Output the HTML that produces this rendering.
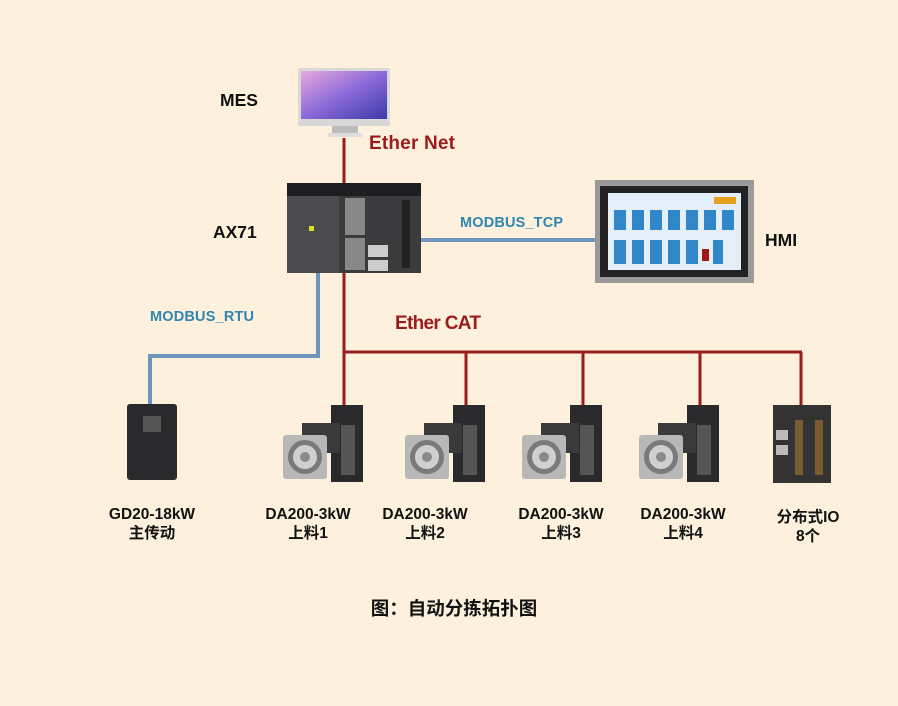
<!DOCTYPE html>
<html><head><meta charset="utf-8"><style>
body{margin:0;background:#fdf0dc;}
svg{display:block}
text{font-family:"Liberation Sans","Noto Sans CJK SC",sans-serif;font-weight:bold}
</style></head><body>
<svg width="898" height="706" viewBox="0 0 898 706" xmlns="http://www.w3.org/2000/svg">
<rect width="898" height="706" fill="#fdf0dc"/>
<defs>
<linearGradient id="scr" x1="0" y1="0" x2="1" y2="1"><stop offset="0" stop-color="#e8a8e0"/><stop offset="0.5" stop-color="#8a6ad8"/><stop offset="1" stop-color="#3a3aa8"/></linearGradient>
<g id="servo">
 <rect x="-13" y="0" width="32" height="77" fill="#2a2a2c"/>
 <rect x="-3" y="20" width="14" height="50" fill="#555"/>
 <rect x="-42" y="18" width="38" height="30" fill="#3a3a3a"/>
 <rect x="-61" y="30" width="44" height="44" rx="3" fill="#b8b8b8"/>
 <circle cx="-39" cy="52" r="17" fill="#7a7a7a"/>
 <circle cx="-39" cy="52" r="12" fill="#d0d0d0"/>
 <circle cx="-39" cy="52" r="5" fill="#8a8a8a"/>
</g>
</defs>
<g stroke="#9a1c1c" stroke-width="3" fill="none">
 <line x1="344" y1="138" x2="344" y2="406"/>
 <line x1="343" y1="352" x2="802" y2="352"/>
 <line x1="466" y1="352" x2="466" y2="406"/>
 <line x1="583" y1="352" x2="583" y2="406"/>
 <line x1="700" y1="352" x2="700" y2="406"/>
 <line x1="801" y1="352" x2="801" y2="406"/>
</g>
<g stroke="#6e96bd" stroke-width="4" fill="none">
 <polyline points="318,272 318,356 150,356 150,405"/>
 <line x1="421" y1="240" x2="596" y2="240"/>
</g>
<rect x="298" y="68" width="92" height="58" rx="2" fill="#d8d8d8"/>
<rect x="301" y="71" width="86" height="48" fill="url(#scr)"/>
<rect x="332" y="126" width="26" height="7" fill="#bbb"/>
<rect x="328" y="133" width="34" height="4" fill="#ddd"/>
<rect x="287" y="183" width="134" height="90" fill="#3b3b3d"/>
<rect x="287" y="183" width="52" height="90" fill="#4b4b4d"/>
<rect x="287" y="183" width="134" height="13" fill="#1e1e20"/>
<rect x="345" y="198" width="20" height="37" fill="#888"/>
<rect x="345" y="238" width="20" height="32" fill="#888"/>
<rect x="368" y="245" width="20" height="12" fill="#ccc"/>
<rect x="368" y="260" width="20" height="11" fill="#ccc"/>
<rect x="402" y="200" width="8" height="68" fill="#222"/>
<rect x="309" y="226" width="5" height="5" fill="#dd2"/>
<rect x="595" y="180" width="159" height="103" fill="#9a9a9a"/>
<rect x="600" y="186" width="148" height="91" fill="#222"/>
<rect x="608" y="193" width="133" height="77" fill="#e4eef8"/>
<g fill="#2f86c9">
 <rect x="614" y="210" width="12" height="20"/><rect x="632" y="210" width="12" height="20"/><rect x="650" y="210" width="12" height="20"/><rect x="668" y="210" width="12" height="20"/><rect x="686" y="210" width="12" height="20"/><rect x="704" y="210" width="12" height="20"/><rect x="722" y="210" width="12" height="20"/>
 <rect x="614" y="240" width="12" height="24"/><rect x="632" y="240" width="12" height="24"/><rect x="650" y="240" width="12" height="24"/><rect x="668" y="240" width="12" height="24"/><rect x="686" y="240" width="12" height="24"/><rect x="713" y="240" width="10" height="24"/>
</g>
<rect x="702" y="249" width="7" height="12" fill="#a01818"/>
<rect x="714" y="197" width="22" height="7" fill="#e6a020"/>
<rect x="127" y="404" width="50" height="76" rx="3" fill="#2a2a2c"/>
<rect x="143" y="416" width="18" height="16" fill="#555"/>
<use href="#servo" x="344" y="405"/>
<use href="#servo" x="466" y="405"/>
<use href="#servo" x="583" y="405"/>
<use href="#servo" x="700" y="405"/>
<rect x="773" y="405" width="58" height="78" fill="#333"/>
<rect x="776" y="430" width="12" height="10" fill="#bbb"/>
<rect x="776" y="445" width="12" height="10" fill="#bbb"/>
<rect x="795" y="420" width="8" height="55" fill="#7a5a30"/>
<rect x="815" y="420" width="8" height="55" fill="#7a5a30"/>
<g font-size="17.5" fill="#111">
 <text x="220" y="106">MES</text>
 <text x="213" y="238">AX71</text>
 <text x="765" y="246">HMI</text>
</g>
<g font-size="19" fill="#9a1c1c">
 <text x="369" y="149" textLength="86">Ether Net</text>
 <text x="395" y="329" textLength="86">Ether CAT</text>
</g>
<g font-size="14.5" fill="#2f86b0">
 <text x="460" y="227" textLength="103">MODBUS_TCP</text>
 <text x="150" y="321" textLength="104">MODBUS_RTU</text>
</g>
<g font-size="15.5" fill="#111" text-anchor="middle">
 <text x="152" y="519">GD20-18kW</text><text x="152" y="538">主传动</text>
 <text x="308" y="519">DA200-3kW</text><text x="308" y="538">上料1</text>
 <text x="425" y="519">DA200-3kW</text><text x="425" y="538">上料2</text>
 <text x="561" y="519">DA200-3kW</text><text x="561" y="538">上料3</text>
 <text x="683" y="519">DA200-3kW</text><text x="683" y="538">上料4</text>
 <text x="808" y="522">分布式IO</text><text x="808" y="541">8个</text>
</g>
<text x="454" y="615" font-size="18.5" fill="#111" text-anchor="middle">图：自动分拣拓扑图</text>
</svg>
</body></html>
